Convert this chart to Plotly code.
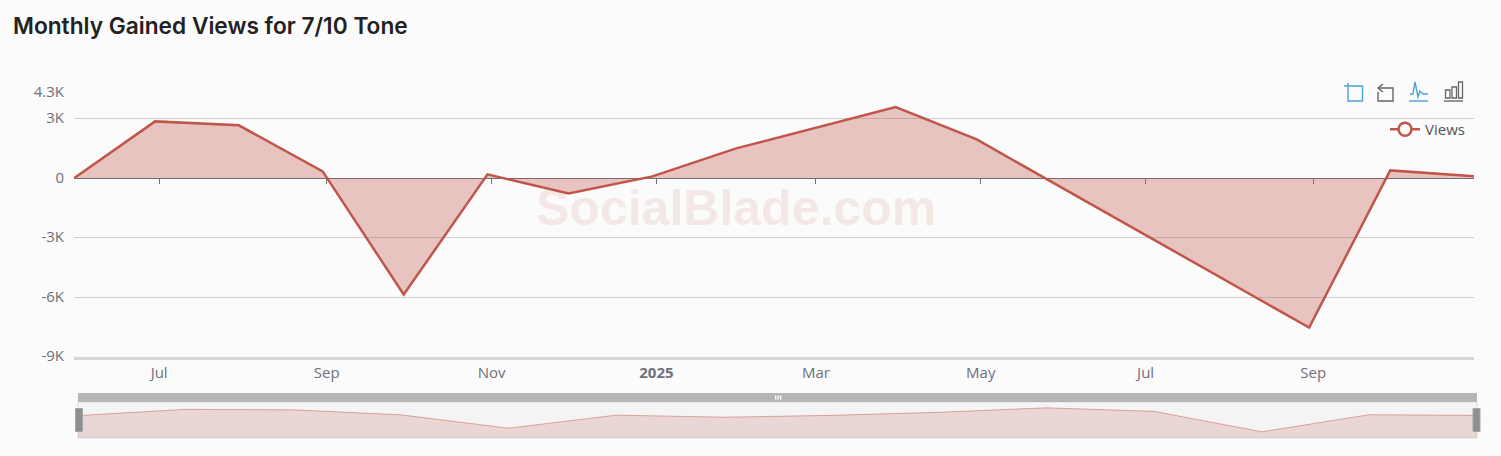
import plotly.graph_objects as go

W, H = 1501, 456
dates = ["2024-05-31","2024-06-30","2024-07-31","2024-08-31","2024-09-30","2024-10-31","2024-11-30","2024-12-31",
         "2025-01-31","2025-03-31","2025-04-30","2025-08-31","2025-09-30","2025-10-31"]
views = [0,2870,2670,350,-5850,200,-760,100,1510,3590,1960,-7520,400,100]
overview_index = list(range(len(dates)))
x_tick_vals = ["2024-07-01T12:00","2024-09-01T12:00","2024-11-01T12:00","2025-01-01T12:00",
               "2025-03-01T12:00","2025-05-01T12:00","2025-07-01T12:00","2025-09-01T12:00"]
x_tick_text = ["Jul","Sep","Nov","<b>2025</b>","Mar","May","Jul","Sep"]
y_tick_vals = [4300,3000,0,-3000,-6000,-9000]
y_tick_text = ["4.3K","3K","0","-3K","-6K","-9K"]
slider_floor = [-10400]*len(dates)

RED = "#c1554a"
FILL = "rgba(190,80,68,0.32)"
GRAY = "#6e7079"
GRID = "#d0d0d0"
BG = "#fbfbfb"
FONT = "Open Sans"

def px(x): return x/W
def py(y): return 1-y/H

x_range = [dates[0], dates[-1]]
fig = go.Figure()
fig.add_trace(go.Scatter(x=dates, y=views, mode="lines", line=dict(color=RED, width=2.5),
                         fill="tozeroy", fillcolor=FILL, showlegend=False, hoverinfo="x+y"))
fig.add_trace(go.Scatter(x=[None], y=[None], mode="lines+markers", name="Views",
                         line=dict(color=RED, width=2.5),
                         marker=dict(size=13, color=BG, line=dict(color=RED, width=2.5))))
fig.add_trace(go.Scatter(x=dates, y=views, xaxis="x3", yaxis="y", mode="lines", line=dict(width=0),
                         showlegend=False, hoverinfo="skip"))
fig.add_trace(go.Scatter(x=overview_index, y=slider_floor, xaxis="x2", yaxis="y2", mode="lines", line=dict(width=0),
                         showlegend=False, hoverinfo="skip"))
fig.add_trace(go.Scatter(x=overview_index, y=views, xaxis="x2", yaxis="y2", mode="lines",
                         line=dict(color="rgba(190,80,68,0.45)", width=1), fill="tonexty",
                         fillcolor="rgba(190,80,68,0.18)", showlegend=False, hoverinfo="skip"))

shapes = []
def rect(x0,y0,x1,y1,fill=None,line=None,lw=1,layer="below"):
    shapes.append(dict(type="rect", xref="paper", yref="paper", x0=px(x0), x1=px(x1), y0=py(y0), y1=py(y1),
                       fillcolor=fill or "rgba(0,0,0,0)", line=dict(color=line or "rgba(0,0,0,0)", width=lw), layer=layer))
def seg(pts,color,lw=1.4):
    d = "M"+" L".join(f"{px(a):.6f},{py(b):.6f}" for a,b in pts)
    shapes.append(dict(type="path", xref="paper", yref="paper", path=d, line=dict(color=color,width=lw), layer="above"))

rect(78,402,1477,438,fill="#f4f4f4",line="#dddddd",layer="below")
rect(78,393,1477,402,fill="#b5b5b5",layer="above")
for xx in (775,777.5,780):
    rect(xx,395.5,xx+1.4,399.5,fill="#ffffff",layer="above")
rect(75.5,408.5,82.5,431.5,fill="#8f8f8f",line="#a5a5a5",layer="above")
rect(1473,408.5,1480,431.5,fill="#8f8f8f",line="#a5a5a5",layer="above")

BLUE = "#4aa3d4"; DK = "#666666"
seg([(1348,83),(1348,101),(1362.5,101),(1362.5,86),(1352,86)],BLUE)
seg([(1344,86),(1352,86)],BLUE)
seg([(1378,88),(1393,88),(1393,101),(1378,101),(1378,92)],DK)
seg([(1383,84),(1378,88),(1383,92)],DK)
seg([(1410,94),(1413,94),(1415,82),(1418,97),(1420,91),(1423,94),(1428,94)],BLUE)
seg([(1409,101),(1428,101)],BLUE)
seg([(1444,101),(1463,101)],DK)
rect(1445.5,90,1450,98,line=DK,lw=1.3,layer="above")
rect(1452,87,1456.5,98,line=DK,lw=1.3,layer="above")
rect(1458.5,82,1462.5,98,line=DK,lw=1.3,layer="above")

fig.update_layout(
    width=W, height=H, margin=dict(l=0,r=0,t=0,b=0,autoexpand=False), paper_bgcolor=BG, plot_bgcolor=BG,
    font=dict(family=FONT, size=15, color=GRAY), hovermode="closest",
    title=dict(text="Monthly Gained Views for 7/10 Tone", x=px(13), xanchor="left", y=py(26), yanchor="middle",
               font=dict(family="Inter", size=22.7, color="#222222", weight=600)),
    xaxis=dict(domain=[px(74),px(1474)], range=x_range, type="date", tickmode="array", tickvals=x_tick_vals,
               ticktext=x_tick_text, ticks="", showgrid=False, zeroline=False, showline=True, linecolor="#d6d6d6",
               linewidth=3, tickfont=dict(size=15,color=GRAY), ticklabelstandoff=0, anchor="y"),
    xaxis3=dict(domain=[px(74),px(1474)], range=x_range, type="date", tickmode="array", tickvals=x_tick_vals,
                ticks="outside", ticklen=5, tickcolor=GRAY, showticklabels=False, showgrid=False, zeroline=False,
                showline=False, anchor="free", position=py(178), overlaying="x"),
    yaxis=dict(domain=[py(357),py(93)], range=[-9000,4300], tickmode="array", tickvals=y_tick_vals, ticktext=y_tick_text,
               gridcolor=GRID, gridwidth=1, zeroline=True, zerolinecolor=GRAY, zerolinewidth=1, showline=False,
               ticks="", tickfont=dict(size=15,color=GRAY), ticklabelstandoff=9, ticklabelshift=-1),
    xaxis2=dict(domain=[px(78),px(1477)], range=[0,len(dates)-1], visible=False, anchor="y2"),
    yaxis2=dict(domain=[py(438),py(402)], range=[-10400,6300], visible=False, anchor="x2"),
    legend=dict(x=px(1470), xanchor="right", y=py(129.5), yanchor="middle", bgcolor="rgba(0,0,0,0)",
                font=dict(size=15,color="#555555"), itemwidth=30),
    shapes=shapes,
    annotations=[dict(text="<b>SocialBlade.com</b>", xref="paper", yref="paper", x=px(736), y=py(208), showarrow=False,
                      font=dict(family="Liberation Sans", size=50, color="rgba(190,80,68,0.11)"))],
)
fig.write_html("out.html", config={"displayModeBar": False},
               post_script="document.body.style.margin='0';document.body.style.overflow='hidden';")
